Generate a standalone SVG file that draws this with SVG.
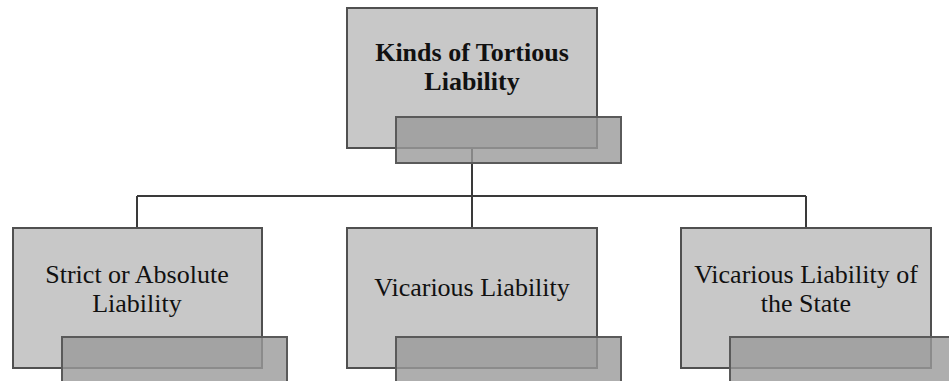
<svg xmlns="http://www.w3.org/2000/svg" width="949" height="381" viewBox="0 0 949 381">
<style>
.box{fill:#c8c8c8;stroke:#505050;stroke-width:2}
.tab{fill:#9a9a9a;fill-opacity:0.8;stroke:#5a5a5a;stroke-width:2}
.t{font-family:"Liberation Serif","Times New Roman",serif;font-size:26px;fill:#111;text-anchor:middle}
.b{font-weight:bold}
.c{fill:none;stroke:#3a3a3a;stroke-width:2}
</style>
<rect width="949" height="381" fill="#ffffff"/>
<g id="connectors">
<path class="c" d="M472 148V196M137 196H806M137 196V228M472 196V228M806 196V228"/>
</g>
<g id="root">
<rect class="box" x="347" y="8" width="250" height="140"/>
<text class="t b" x="472" y="61">Kinds of Tortious</text>
<text class="t b" x="472" y="90">Liability</text>
<rect class="tab" x="396" y="117" width="225" height="46"/>
</g>
<g id="strict">
<rect class="box" x="13" y="228" width="249" height="140"/>
<text class="t" x="137" y="283">Strict or Absolute</text>
<text class="t" x="137" y="312">Liability</text>
<rect class="tab" x="62" y="337" width="225" height="50"/>
</g>
<g id="vicarious">
<rect class="box" x="347" y="228" width="250" height="140"/>
<text class="t" x="472" y="296">Vicarious Liability</text>
<rect class="tab" x="396" y="337" width="225" height="50"/>
</g>
<g id="state">
<rect class="box" x="681" y="228" width="250" height="140"/>
<text class="t" x="806" y="283">Vicarious Liability of</text>
<text class="t" x="806" y="312">the State</text>
<rect class="tab" x="730" y="337" width="225" height="50"/>
</g>
</svg>
